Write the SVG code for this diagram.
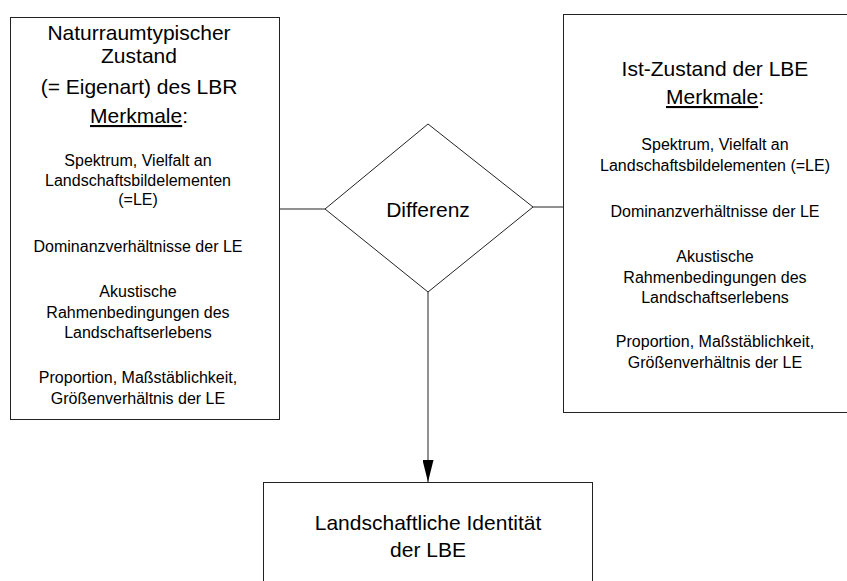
<svg xmlns="http://www.w3.org/2000/svg" width="847" height="581" viewBox="0 0 847 581">
<style>
  .box { fill: #fff; stroke: #222; stroke-width: 1; }
  .con { fill: none; stroke: #222; stroke-width: 1; }
  text { font-family: "Liberation Sans", Arial, sans-serif; fill: #000; text-anchor: middle; }
  .big { font-size: 21px; }
  .small { font-size: 16px; }
  .u { text-decoration: underline; }
</style>
<defs>
  <marker id="arrow" viewBox="0 0 22 11" refX="22" refY="5.5" markerWidth="22" markerHeight="11" markerUnits="userSpaceOnUse" orient="auto">
    <path d="M0,0 L22,5.5 L0,11 Z" fill="#000"/>
  </marker>
</defs>
<rect width="847" height="581" fill="#fff"/>
<g id="connectors">
  <line class="con" x1="279" y1="209" x2="325" y2="209"/>
  <line class="con" x1="533" y1="207" x2="563" y2="207"/>
  <line class="con" x1="428" y1="292" x2="428" y2="482" marker-end="url(#arrow)"/>
</g>
<g id="node-naturraum">
  <rect class="box" x="10.5" y="17.5" width="269" height="402"/>
  <text class="big" x="139" y="40">Naturraumtypischer</text>
  <text class="big" x="139" y="63">Zustand</text>
  <text class="big" x="139" y="94">(= Eigenart) des LBR</text>
  <text class="big" x="139" y="123"><tspan class="u">Merkmale</tspan>:</text>
  <text class="small" x="138" y="166">Spektrum, Vielfalt an</text>
  <text class="small" x="138" y="186">Landschaftsbildelementen</text>
  <text class="small" x="138" y="205">(=LE)</text>
  <text class="small" x="138" y="252">Dominanzverhältnisse der LE</text>
  <text class="small" x="138" y="297">Akustische</text>
  <text class="small" x="138" y="318">Rahmenbedingungen des</text>
  <text class="small" x="138" y="338">Landschaftserlebens</text>
  <text class="small" x="138" y="383">Proportion, Maßstäblichkeit,</text>
  <text class="small" x="138" y="404">Größenverhältnis der LE</text>
</g>
<g id="node-istzustand">
  <rect class="box" x="563.5" y="14.5" width="305" height="398"/>
  <text class="big" x="715" y="76">Ist-Zustand der LBE</text>
  <text class="big" x="715" y="104"><tspan class="u">Merkmale</tspan>:</text>
  <text class="small" x="715" y="150">Spektrum, Vielfalt an</text>
  <text class="small" x="715" y="171">Landschaftsbildelementen (=LE)</text>
  <text class="small" x="715" y="217">Dominanzverhältnisse der LE</text>
  <text class="small" x="715" y="262">Akustische</text>
  <text class="small" x="715" y="283">Rahmenbedingungen des</text>
  <text class="small" x="715" y="303">Landschaftserlebens</text>
  <text class="small" x="715" y="347">Proportion, Maßstäblichkeit,</text>
  <text class="small" x="715" y="368">Größenverhältnis der LE</text>
</g>
<g id="node-differenz">
  <polygon class="box" points="428,124 533,207 428,292 325,209"/>
  <text class="big" x="428" y="217">Differenz</text>
</g>
<g id="node-identitaet">
  <rect class="box" x="263.5" y="482.5" width="329" height="130"/>
  <text class="big" x="428" y="530">Landschaftliche Identität</text>
  <text class="big" x="428" y="557">der LBE</text>
</g>
</svg>
